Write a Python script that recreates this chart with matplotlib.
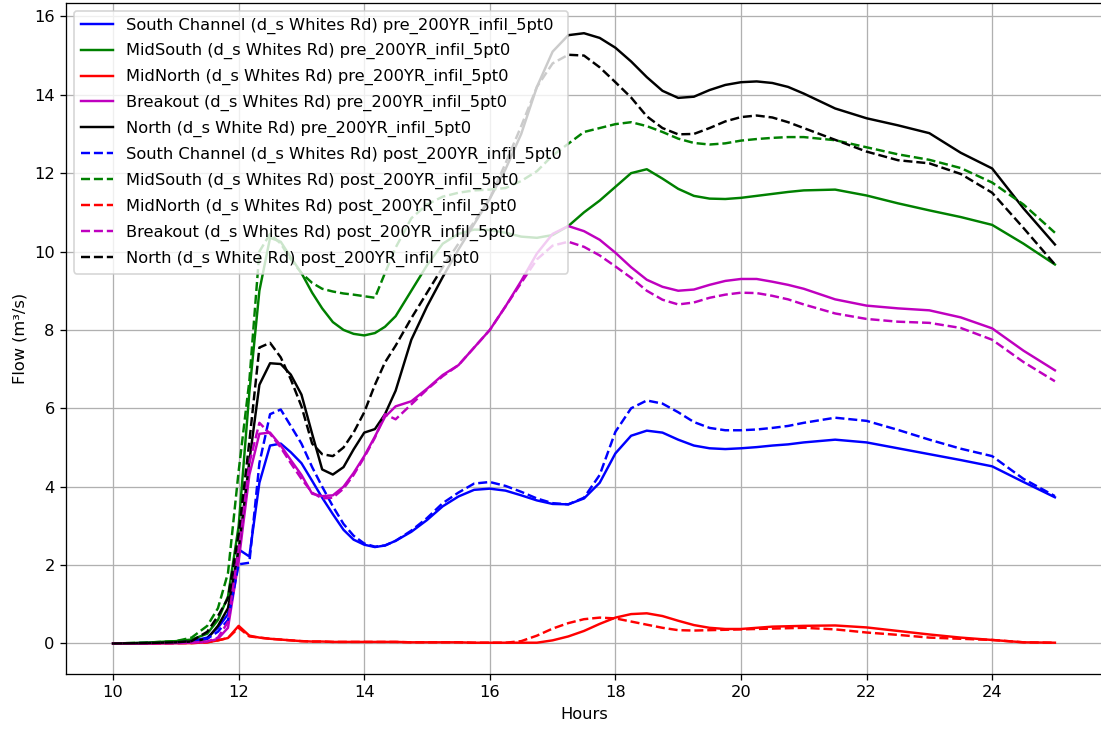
import numpy as np
import matplotlib
matplotlib.use("Agg")
import matplotlib.pyplot as plt

# time steps (hours)
hours = [10, 10.5, 11, 11.25, 11.5, 11.67, 11.83, 12, 12.17, 12.33, 12.5, 12.67, 12.83,
         13, 13.17, 13.33, 13.5, 13.67, 13.83, 14, 14.17, 14.33, 14.5, 14.75, 15, 15.25,
         15.5, 15.75, 16, 16.25, 16.5, 16.75, 17, 17.25, 17.5, 17.75, 18, 18.25, 18.5,
         18.75, 19, 19.25, 19.5, 19.75, 20, 20.25, 20.5, 20.75, 21, 21.5, 22, 22.5, 23,
         23.5, 24, 24.5, 25]

south_pre = [0, 0.01, 0.03, 0.06, 0.15, 0.4, 0.75, 2.4, 2.22, 4.1, 5.05, 5.1, 4.88,
             4.6, 4.15, 3.72, 3.3, 2.9, 2.65, 2.52, 2.46, 2.5, 2.62, 2.85, 3.15, 3.5,
             3.75, 3.92, 3.95, 3.9, 3.78, 3.65, 3.56, 3.55, 3.7, 4.1, 4.85, 5.3, 5.43,
             5.38, 5.2, 5.05, 4.98, 4.96, 4.98, 5.01, 5.05, 5.08, 5.13, 5.2, 5.13, 4.98, 4.83,
             4.68, 4.52, 4.12, 3.73]
midsouth_pre = [0, 0.02, 0.06, 0.1, 0.25, 0.6, 1.2, 3.0, 6.4, 9.0, 10.35, 10.25, 9.85,
                9.45, 8.95, 8.55, 8.2, 8.0, 7.9, 7.86, 7.92, 8.08, 8.35, 9.0, 9.65, 10.2,
                10.45, 10.56, 10.55, 10.48, 10.38, 10.35, 10.42, 10.65, 11.0, 11.3, 11.65, 12.0, 12.1,
                11.86, 11.6, 11.42, 11.35, 11.34, 11.37, 11.42, 11.47, 11.52, 11.56, 11.58, 11.43, 11.23, 11.05,
                10.88, 10.68, 10.2, 9.67]
midnorth_pre = [0, 0, 0.01, 0.01, 0.03, 0.08, 0.14, 0.45, 0.2, 0.15, 0.12, 0.1, 0.08,
                0.06, 0.05, 0.05, 0.04, 0.04, 0.04, 0.04, 0.04, 0.04, 0.04, 0.03, 0.03, 0.03,
                0.03, 0.02, 0.02, 0.02, 0.02, 0.02, 0.08, 0.18, 0.32, 0.5, 0.66, 0.75, 0.77,
                0.7, 0.58, 0.47, 0.4, 0.37, 0.37, 0.4, 0.43, 0.44, 0.45, 0.46, 0.41, 0.32, 0.23,
                0.15, 0.09, 0.03, 0.02]
breakout_pre = [0, 0, 0.01, 0.02, 0.04, 0.12, 0.4, 2.1, 4.3, 5.35, 5.38, 5.05, 4.68,
                4.3, 3.82, 3.76, 3.78, 4.0, 4.35, 4.78, 5.28, 5.78, 6.05, 6.18, 6.5, 6.85,
                7.1, 7.55, 8.0, 8.6, 9.25, 9.95, 10.45, 10.65, 10.52, 10.3, 9.97, 9.6, 9.28,
                9.1, 9.0, 9.03, 9.15, 9.25, 9.3, 9.3, 9.23, 9.15, 9.05, 8.78, 8.62, 8.55, 8.5,
                8.32, 8.04, 7.47, 6.97]
north_pre = [0, 0.01, 0.03, 0.05, 0.12, 0.45, 0.9, 2.4, 4.65, 6.6, 7.15, 7.13, 6.86,
             6.35, 5.35, 4.44, 4.31, 4.5, 4.95, 5.38, 5.47, 5.85, 6.45, 7.75, 8.6, 9.35,
             10.05, 10.7, 11.35, 12.1, 13.0, 14.2, 15.1, 15.52, 15.57, 15.45, 15.2, 14.85, 14.45,
             14.1, 13.92, 13.95, 14.12, 14.25, 14.32, 14.34, 14.3, 14.2, 14.03, 13.65, 13.4, 13.22, 13.02,
             12.52, 12.12, 11.1, 10.18]

south_post = [0, 0.01, 0.03, 0.05, 0.12, 0.3, 0.6, 2.02, 2.06, 4.6, 5.85, 5.97, 5.55,
              5.1, 4.5, 4.0, 3.5, 3.05, 2.75, 2.55, 2.47, 2.5, 2.62, 2.88, 3.2, 3.58,
              3.85, 4.08, 4.12, 4.02, 3.87, 3.7, 3.58, 3.55, 3.72, 4.3, 5.4, 6.0, 6.2,
              6.12, 5.9, 5.65, 5.5, 5.44, 5.44, 5.46, 5.5, 5.55, 5.63, 5.76, 5.68, 5.45, 5.2,
              4.97, 4.78, 4.2, 3.76]
midsouth_post = [0, 0.02, 0.06, 0.15, 0.45, 0.9, 1.8, 4.4, 6.7, 10.0, 10.45, 10.2, 9.8,
                 9.45, 9.2, 9.05, 8.98, 8.93, 8.9, 8.86, 8.82, 9.45, 10.1, 10.85, 11.2, 11.4,
                 11.5, 11.56, 11.58, 11.62, 11.8, 12.05, 12.45, 12.75, 13.05, 13.15, 13.25, 13.3, 13.2,
                 13.05, 12.88, 12.77, 12.73, 12.76, 12.83, 12.87, 12.9, 12.92, 12.92, 12.84, 12.66, 12.48, 12.34,
                 12.13, 11.76, 11.2, 10.48]
midnorth_post = [0, 0, 0.01, 0.01, 0.03, 0.08, 0.14, 0.4, 0.18, 0.15, 0.12, 0.1, 0.08,
                 0.06, 0.05, 0.05, 0.04, 0.04, 0.04, 0.04, 0.04, 0.04, 0.04, 0.03, 0.03, 0.03,
                 0.03, 0.02, 0.02, 0.02, 0.06, 0.2, 0.38, 0.52, 0.62, 0.66, 0.64, 0.56, 0.48,
                 0.4, 0.34, 0.33, 0.34, 0.35, 0.36, 0.37, 0.38, 0.39, 0.4, 0.36, 0.28, 0.22, 0.15,
                 0.12, 0.09, 0.03, 0.02]
breakout_post = [0, 0, 0.01, 0.02, 0.05, 0.15, 0.55, 2.4, 4.6, 5.63, 5.35, 5.0, 4.6,
                 4.2, 3.85, 3.7, 3.72, 3.95, 4.3, 4.75, 5.25, 5.85, 5.72, 6.1, 6.48, 6.82,
                 7.1, 7.55, 8.0, 8.6, 9.2, 9.8, 10.15, 10.25, 10.12, 9.9, 9.62, 9.33, 9.0,
                 8.77, 8.65, 8.7, 8.82, 8.9, 8.95, 8.94, 8.87, 8.78, 8.65, 8.42, 8.28, 8.21, 8.18,
                 8.05, 7.75, 7.18, 6.69]
north_post = [0, 0.01, 0.03, 0.06, 0.3, 0.7, 1.15, 2.8, 5.15, 7.55, 7.67, 7.3, 6.74,
              6.05, 5.1, 4.83, 4.78, 5.0, 5.38, 5.9, 6.6, 7.17, 7.6, 8.3, 8.95, 9.6,
              10.2, 10.75, 11.35, 12.25, 13.2, 14.2, 14.8, 15.02, 15.0, 14.7, 14.32, 13.93, 13.45,
              13.15, 12.99, 13.0, 13.15, 13.32, 13.43, 13.47, 13.42, 13.3, 13.15, 12.85, 12.55, 12.33, 12.25,
              11.98, 11.5, 10.6, 9.67]

names = ["South Channel (d_s Whites Rd)", "MidSouth (d_s Whites Rd)",
         "MidNorth (d_s Whites Rd)", "Breakout (d_s Whites Rd)", "North (d_s White Rd)"]
colours = ["b", "g", "r", "m", "k"]
pre = [south_pre, midsouth_pre, midnorth_pre, breakout_pre, north_pre]
post = [south_post, midsouth_post, midnorth_post, breakout_post, north_post]

fig = plt.figure(figsize=(1101 / 117, 729 / 117), dpi=117)
# right edge of the axes sits just past the image edge, as in the original crop
ax = fig.add_axes([66 / 1101, 55 / 729, 1036 / 1101, 671.3 / 729])

for name, c, q in zip(names, colours, pre):
    ax.plot(hours, q, c + "-", label=name + " pre_200YR_infil_5pt0")
for name, c, q in zip(names, colours, post):
    ax.plot(hours, q, c + "--", label=name + " post_200YR_infil_5pt0")

ax.set_xlabel("Hours")
ax.set_ylabel("Flow (m³/s)")
ax.grid(True)
ax.spines["right"].set_visible(False)
ax.legend(loc="upper left", labelspacing=0.6)

fig.savefig("out.png", dpi=117)
